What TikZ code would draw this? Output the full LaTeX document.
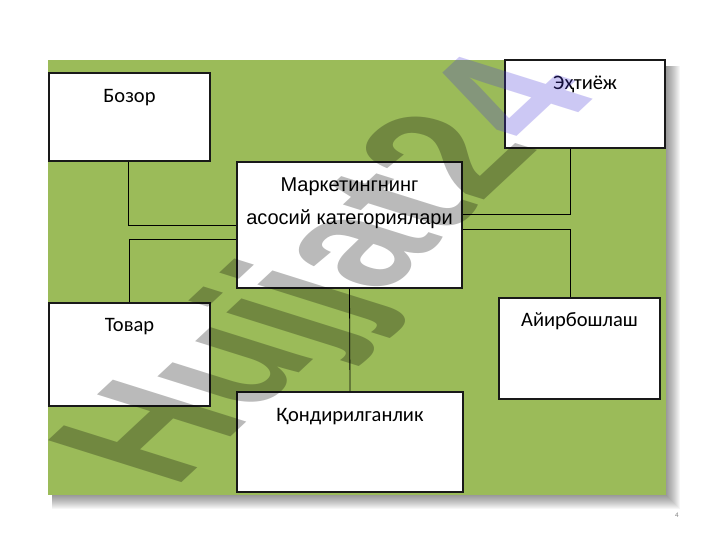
\documentclass[tikz,border=0pt]{standalone}
\usepackage{fontspec}
\setmainfont{Carlito}
\newfontfamily\arialf{Liberation Sans}
\usetikzlibrary{positioning}
\definecolor{verde}{RGB}{155,187,89}
\definecolor{lilla}{RGB}{70,52,218}

\begin{document}
\begin{tikzpicture}[x=1pt,y=1pt]
\tikzstyle{casella} = [draw=black!90, line width=1.1pt, fill=white, rectangle, inner sep=0pt]
\tikzstyle{scritta} = [anchor=base, inner sep=0pt, font=\fontsize{20.5}{24}\selectfont]
\tikzstyle{titolo} = [anchor=base, inner sep=0pt, font=\arialf\fontsize{20}{24}\selectfont]
\tikzstyle{linea} = [line width=0.8pt]
\useasboundingbox (0,0) rectangle (720,540);
% ombra e sfondo
\foreach \d in {1,...,14} \fill[black, opacity=0.035] (52,45-\d) rectangle (666+\d,474);
\fill[verde] (48,45) rectangle (666,480);
% caselle
\node[casella, minimum width=161pt, minimum height=88pt] (bozor) at (129.5,423) {};
\node[casella, minimum width=225pt, minimum height=126pt] (markaz) at (349.5,315) {};
\node[casella, minimum width=160pt, minimum height=88pt] (ehtiyoj) at (585,436) {};
\node[casella, minimum width=161pt, minimum height=103pt] (tovar) at (129.5,185.5) {};
\node[casella, minimum width=226pt, minimum height=100pt] (qondir) at (350,98) {};
\node[casella, minimum width=161pt, minimum height=101pt] (ayirbosh) at (579.5,191.5) {};
\node[scritta] (bozor-t) at ([yshift=-30pt]bozor.north) {Бозор};
\node[titolo] (markaz-t1) at ([yshift=-30pt]markaz.north) {Маркетингнинг};
\node[titolo] (markaz-t2) at ([yshift=-63pt]markaz.north) {асосий категориялари};
\node[scritta] (ehtiyoj-t) at ([yshift=-30pt]ehtiyoj.north) {Эҳтиёж};
\node[scritta] (tovar-t) at ([yshift=-29pt]tovar.north) {Товар};
\node[scritta] (qondir-t) at ([yshift=-30pt]qondir.north) {Қондирилганлик};
\node[scritta] (ayirbosh-t) at ([yshift=-29pt]ayirbosh.north) {Айирбошлаш};
% collegamenti
\draw[linea] ([xshift=-1.5pt]bozor.south) |- (markaz.west);
\draw[linea] (tovar.north) |- ([yshift=-14pt]markaz.west);
\draw[linea] ([xshift=-15pt]ehtiyoj.south) |- ([yshift=11pt]markaz.east);
\draw[linea] ([yshift=-4pt]markaz.east) -| ([xshift=-9.5pt]ayirbosh.north);
\draw[linea] (markaz.south) -- (qondir.north);
% filigrana
\begin{scope}[shift={(172,48)}, cm={11.04,10.3,-19.4,6.1,(0,0)}]
\node[transform shape, anchor=base west, inner sep=0pt, text=black, text opacity=0.27,
  font=\arialf\bfseries\fontsize{10}{12}\selectfont] (hujjat) at (0,0) {Hujjat2\textcolor{lilla}{4}};
\end{scope}
\node[text=gray, font=\fontsize{7}{8}\selectfont] (numero) at (677,25) {4};
\end{tikzpicture}
\end{document}
